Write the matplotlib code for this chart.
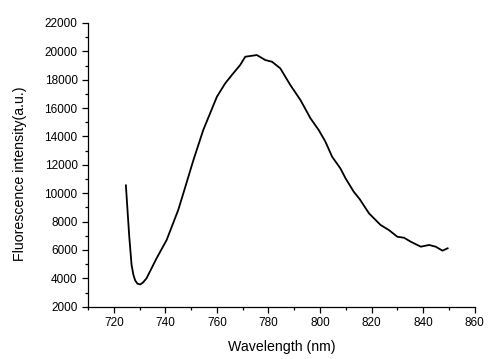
import matplotlib.pyplot as plt
from matplotlib.ticker import MultipleLocator

plt.rcParams['font.family'] = ['Liberation Sans', 'DejaVu Sans']

# fluorescence spectrum
wavelength = [724.7, 725.4, 726.0, 726.9, 727.6, 728.3, 729.2, 730.3, 731.3, 732.7,
              734.5, 736.6, 740.5, 745.0, 747.0,
              750.9, 754.7, 760.0, 763.2, 765.8, 769.0, 771.0, 775.5, 778.8, 781.4,
              784.6, 788.5, 792.4, 796.3, 799.5, 802.1, 804.7, 807.9, 809.9, 813.1,
              815.4, 819.0, 823.5, 826.7, 830.0, 832.6, 835.2, 839.1, 842.3, 844.9,
              847.5, 849.5]
intensity = [10550, 8600, 6950, 4950, 4250, 3850, 3620, 3570, 3700, 4000,
             4650, 5410, 6700, 8815, 10000,
             12340, 14450, 16800, 17740, 18330, 19030, 19620, 19740, 19385, 19265,
             18800, 17620, 16570, 15280, 14450, 13630, 12570, 11750, 11050, 10100,
             9580, 8580, 7760, 7405, 6930, 6860, 6580, 6230, 6350, 6230,
             5950, 6115]

fig = plt.figure(figsize=(4.98, 3.59), dpi=100)
ax = fig.add_axes([0.1767, 0.1457, 0.9532 - 0.1767, 0.936 - 0.1457])

ax.plot(wavelength, intensity, color='black', lw=1.3)

ax.set_xlim(710, 860)
ax.set_ylim(2000, 22000)
ax.xaxis.set_major_locator(MultipleLocator(20))
ax.xaxis.set_minor_locator(MultipleLocator(10))
ax.yaxis.set_major_locator(MultipleLocator(2000))
ax.yaxis.set_minor_locator(MultipleLocator(1000))

for side in ('top', 'right'):
    ax.spines[side].set_visible(False)
for side in ('left', 'bottom'):
    ax.spines[side].set_linewidth(0.9)

ax.tick_params(which='major', direction='out', length=4, width=0.9, labelsize=8.5)
ax.tick_params(which='minor', direction='out', length=2.2, width=0.9)

ax.set_xlabel('Wavelength (nm)', fontsize=10.2, labelpad=7.5)
ax.set_ylabel('Fluorescence intensity(a.u.)', fontsize=10.2)
ax.yaxis.set_label_coords(-0.158, 0.468)

fig.savefig('out.png', dpi=100)
